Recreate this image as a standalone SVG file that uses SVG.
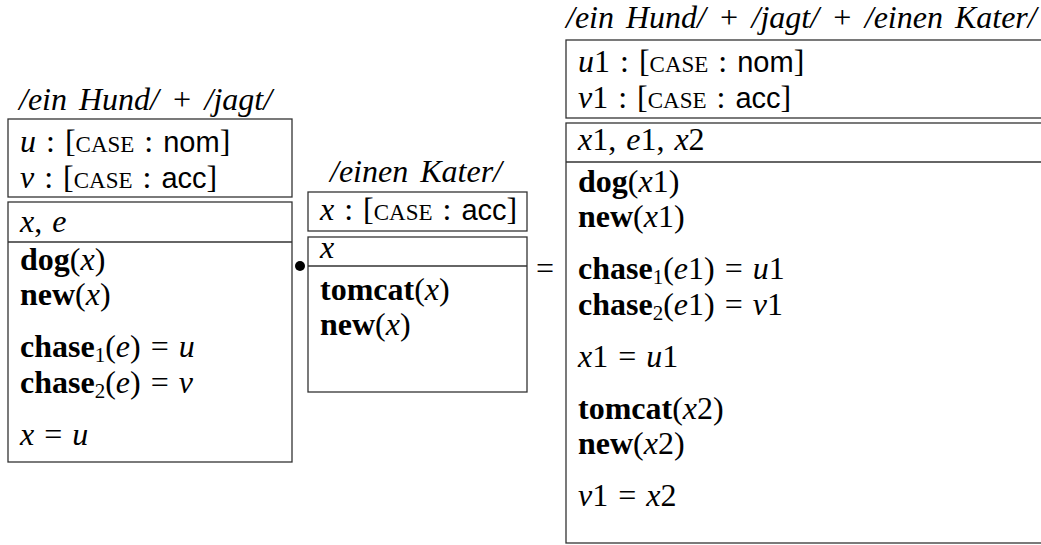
<svg xmlns="http://www.w3.org/2000/svg" width="1041" height="545" viewBox="0 0 1041 545">
<style>
text{font-family:"Liberation Serif","Times New Roman",serif;font-size:32px;fill:#000;word-spacing:2px}
.i{font-style:italic}
.b{font-weight:bold}
.s{font-family:"Liberation Sans",Arial,sans-serif;font-size:29px}
.sc{font-size:23px}
.sub{font-size:21px}
.t{font-style:italic;word-spacing:4px}
.box{fill:#fff;stroke:#333;stroke-width:1.3}
.div{stroke:#333;stroke-width:1.3}
</style>
<rect width="1041" height="545" fill="#fff"/>

<g id="drs-left">
<text class="t" x="19" y="110">/ein Hund/ + /jagt/</text>
<rect class="box" x="8" y="119" width="284" height="78"/>
<text x="20" y="152"><tspan class="i">u</tspan> : [<tspan class="sc">CASE</tspan> : <tspan class="s">nom</tspan>]</text>
<text x="20" y="188"><tspan class="i">v</tspan> : [<tspan class="sc">CASE</tspan> : <tspan class="s">acc</tspan>]</text>
<rect class="box" x="8" y="202" width="284" height="260"/>
<line class="div" x1="8" y1="242" x2="292" y2="242"/>
<text x="20" y="232"><tspan class="i">x</tspan>, <tspan class="i">e</tspan></text>
<text x="20" y="270"><tspan class="b">dog</tspan>(<tspan class="i">x</tspan>)</text>
<text x="20" y="305"><tspan class="b">new</tspan>(<tspan class="i">x</tspan>)</text>
<text x="20" y="357"><tspan class="b">chase</tspan><tspan class="sub" dy="5">1</tspan><tspan dy="-5">(</tspan><tspan class="i">e</tspan>) = <tspan class="i">u</tspan></text>
<text x="20" y="393"><tspan class="b">chase</tspan><tspan class="sub" dy="5">2</tspan><tspan dy="-5">(</tspan><tspan class="i">e</tspan>) = <tspan class="i">v</tspan></text>
<text x="20" y="445"><tspan class="i">x</tspan> = <tspan class="i">u</tspan></text>
</g>

<g id="drs-mid">
<text class="t" x="330" y="182">/einen Kater/</text>
<rect class="box" x="308" y="192" width="219" height="39"/>
<text x="320" y="220"><tspan class="i">x</tspan> : [<tspan class="sc">CASE</tspan> : <tspan class="s">acc</tspan>]</text>
<rect class="box" x="308" y="237" width="219" height="155"/>
<line class="div" x1="308" y1="266" x2="527" y2="266"/>
<text class="i" x="320" y="258">x</text>
<text x="320" y="300"><tspan class="b">tomcat</tspan>(<tspan class="i">x</tspan>)</text>
<text x="320" y="335"><tspan class="b">new</tspan>(<tspan class="i">x</tspan>)</text>
</g>

<g id="drs-right">
<text class="t" x="566" y="28">/ein Hund/ + /jagt/ + /einen Kater/</text>
<rect class="box" x="566" y="40" width="490" height="78"/>
<text x="578" y="72"><tspan class="i">u</tspan>1 : [<tspan class="sc">CASE</tspan> : <tspan class="s">nom</tspan>]</text>
<text x="578" y="108"><tspan class="i">v</tspan>1 : [<tspan class="sc">CASE</tspan> : <tspan class="s">acc</tspan>]</text>
<rect class="box" x="566" y="123" width="490" height="420"/>
<line class="div" x1="566" y1="162" x2="1041" y2="162"/>
<text x="578" y="150"><tspan class="i">x</tspan>1, <tspan class="i">e</tspan>1, <tspan class="i">x</tspan>2</text>
<text x="578" y="192"><tspan class="b">dog</tspan>(<tspan class="i">x</tspan>1)</text>
<text x="578" y="227"><tspan class="b">new</tspan>(<tspan class="i">x</tspan>1)</text>
<text x="578" y="279"><tspan class="b">chase</tspan><tspan class="sub" dy="5">1</tspan><tspan dy="-5">(</tspan><tspan class="i">e</tspan>1) = <tspan class="i">u</tspan>1</text>
<text x="578" y="315"><tspan class="b">chase</tspan><tspan class="sub" dy="5">2</tspan><tspan dy="-5">(</tspan><tspan class="i">e</tspan>1) = <tspan class="i">v</tspan>1</text>
<text x="578" y="367"><tspan class="i">x</tspan>1 = <tspan class="i">u</tspan>1</text>
<text x="578" y="419"><tspan class="b">tomcat</tspan>(<tspan class="i">x</tspan>2)</text>
<text x="578" y="454"><tspan class="b">new</tspan>(<tspan class="i">x</tspan>2)</text>
<text x="578" y="506"><tspan class="i">v</tspan>1 = <tspan class="i">x</tspan>2</text>
</g>

<g id="connectors">
<circle cx="300" cy="266" r="5" fill="#000"/>
<text x="536" y="279">=</text>
</g>
</svg>
